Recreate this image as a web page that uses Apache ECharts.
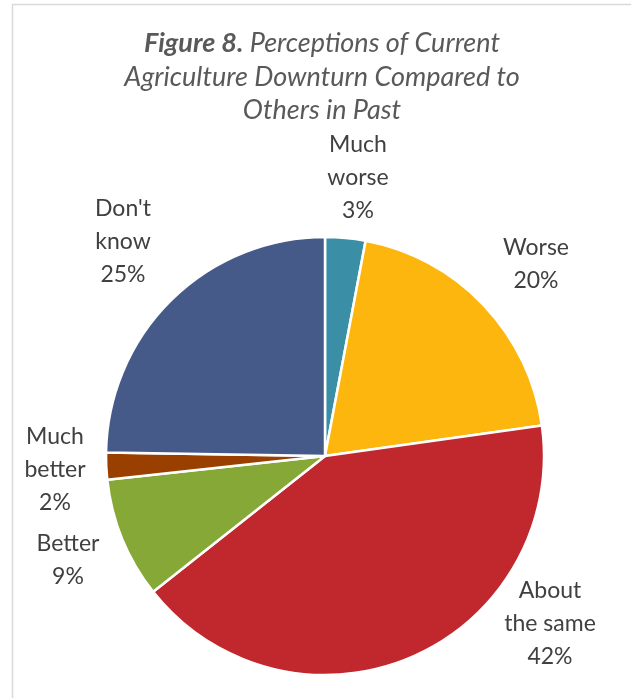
<!DOCTYPE html>
<html><head><meta charset="utf-8">
<script src="https://cdn.jsdelivr.net/npm/echarts@6/dist/echarts.min.js"></script>
<style>html,body{margin:0;padding:0;background:#fff}#c{width:631px;height:698px}</style>
</head><body><div id="c"></div>
<script>
const categories = ["Much\nworse", "Worse", "About\nthe same", "Better", "Much\nbetter", "Don't\nknow"];
const values = [3, 20, 42, 9, 2, 25];
const colors = ["#3A8FA6", "#FDB60D", "#C1282E", "#86A836", "#994000", "#465A8A"];
const titleText = '{b|Figure 8.} Perceptions of Current\nAgriculture Downturn Compared to\nOthers in Past';
// label centers (layout only)
const labelPos = [[358,178],[536,264],[550,624],[68,560],[55,470],[123,242]];

const chart = echarts.init(document.getElementById('c'));
chart.setOption({
  backgroundColor: '#fff',
  animation: false,
  graphic: [
    {type:'rect', shape:{x:12.5, y:4.5, width:700, height:800}, style:{fill:'none', stroke:'#d9d9d9', lineWidth:1.5}},
    {type:'text', x:322, y:77, style:{
      text: titleText, align:'center', verticalAlign:'middle',
      fontFamily:'Lato', fontStyle:'italic', fontSize:27, fill:'#595959', lineHeight:33.5,
      rich:{b:{fontFamily:'Lato', fontStyle:'italic', fontWeight:'bold', fontSize:27, fill:'#595959', lineHeight:33.5}}
    }}
  ],
  series: [{
    type: 'pie',
    center: [325, 456],
    radius: [0, 219],
    startAngle: 90,
    clockwise: true,
    data: categories.map((c, i) => ({name: c, value: values[i], itemStyle: {color: colors[i]}})),
    itemStyle: {borderColor: '#fff', borderWidth: 2.5},
    label: {
      show: true, position: 'outside', overflow: 'none',
      formatter: p => p.name + '\n' + p.value + '%',
      fontFamily: 'Lato', fontSize: 23, color: '#404040', lineHeight: 33, align: 'center'
    },
    labelLine: {show: false},
    labelLayout: params => ({x: labelPos[params.dataIndex][0], y: labelPos[params.dataIndex][1], align: 'center', verticalAlign: 'middle'}),
    emphasis: {disabled: true}
  }]
});
</script></body></html>
